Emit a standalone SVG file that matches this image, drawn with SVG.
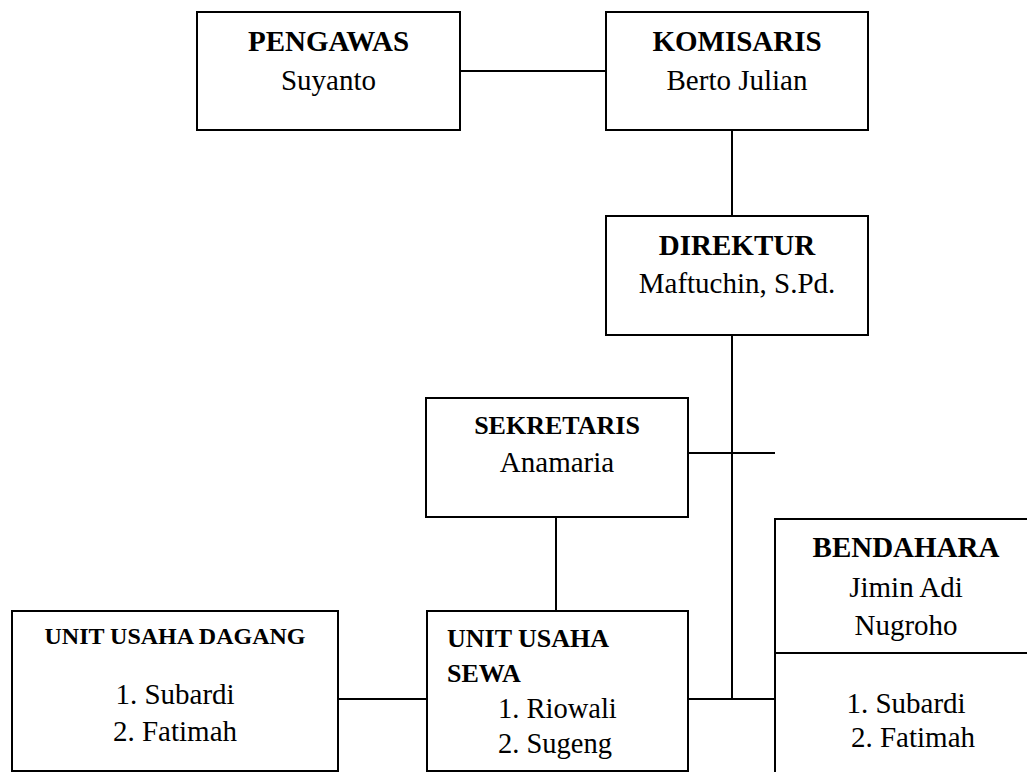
<svg xmlns="http://www.w3.org/2000/svg" width="1027" height="772" viewBox="0 0 1027 772">
<style>
rect.box{fill:#fff;stroke:#000;stroke-width:2}
.conn line{stroke:#000;stroke-width:2}
text{font-family:"Liberation Serif","Times New Roman",serif;fill:#000}
.t{font-weight:bold;font-size:29px;text-anchor:middle}
.n{font-size:29px;text-anchor:middle}
</style>
<rect width="1027" height="772" fill="#fff"/>
<g class="conn" id="connectors">
<line x1="460" y1="71" x2="606" y2="71"/>
<line x1="732" y1="130" x2="732" y2="216"/>
<line x1="732" y1="335" x2="732" y2="699"/>
<line x1="688" y1="453" x2="775" y2="453"/>
<line x1="556" y1="517" x2="556" y2="611"/>
<line x1="338" y1="699" x2="427" y2="699"/>
<line x1="688" y1="699" x2="775" y2="699"/>
</g>
<g id="pengawas">
<rect class="box" x="197" y="12" width="263" height="118"/>
<text class="t" x="328.5" y="51">PENGAWAS</text>
<text class="n" x="328.5" y="90">Suyanto</text>
</g>
<g id="komisaris">
<rect class="box" x="606" y="12" width="262" height="118"/>
<text class="t" x="737" y="51">KOMISARIS</text>
<text class="n" x="737" y="90">Berto Julian</text>
</g>
<g id="direktur">
<rect class="box" x="606" y="216" width="262" height="119"/>
<text class="t" x="737" y="255">DIREKTUR</text>
<text class="n" x="737" y="293">Maftuchin, S.Pd.</text>
</g>
<g id="sekretaris">
<rect class="box" x="426" y="398" width="262" height="119"/>
<text class="t" x="557" y="434" style="font-size:26px">SEKRETARIS</text>
<text class="n" x="557" y="472">Anamaria</text>
</g>
<g id="unit-usaha-dagang">
<rect class="box" x="12" y="611" width="326" height="160"/>
<text class="t" x="175" y="644" style="font-size:24px">UNIT USAHA DAGANG</text>
<text class="n" x="175" y="704">1. Subardi</text>
<text class="n" x="175" y="741">2. Fatimah</text>
</g>
<g id="unit-usaha-sewa">
<rect class="box" x="427" y="611" width="261" height="160"/>
<text x="447" y="647" style="font-weight:bold;font-size:26px">UNIT USAHA</text>
<text x="447" y="682" style="font-weight:bold;font-size:26px">SEWA</text>
<text x="498" y="718" style="font-size:28.5px">1. Riowali</text>
<text x="498" y="753" style="font-size:28.5px">2. Sugeng</text>
</g>
<g id="bendahara">
<rect class="box" x="775" y="519" width="262" height="260"/>
<line x1="775" y1="653" x2="1037" y2="653" stroke="#000" stroke-width="2"/>
<text class="t" x="906" y="557">BENDAHARA</text>
<text class="n" x="906" y="597">Jimin Adi</text>
<text class="n" x="906" y="635">Nugroho</text>
<text class="n" x="906" y="713">1. Subardi</text>
<text class="n" x="913" y="747">2. Fatimah</text>
</g>
</svg>
